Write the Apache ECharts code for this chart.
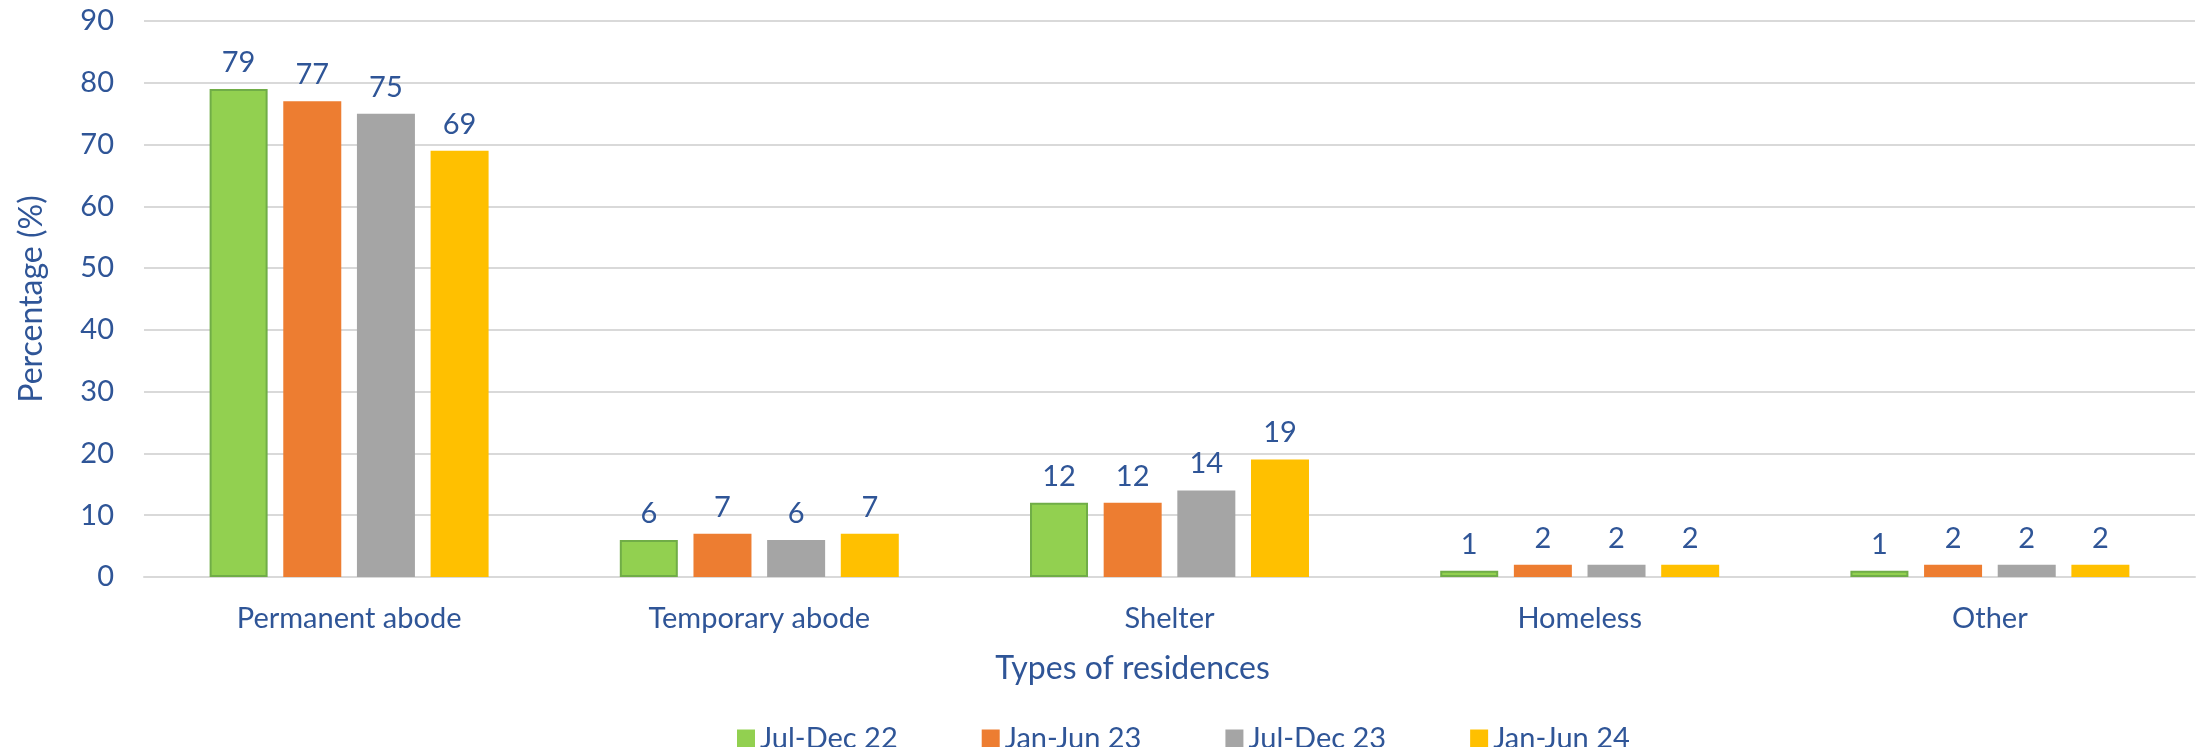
<!DOCTYPE html>
<html>
<head>
<meta charset="utf-8">
<script src="https://cdn.jsdelivr.net/npm/echarts@6/dist/echarts.min.js"></script>
<style>
html,body{margin:0;padding:0;background:#fff;}
#chart{width:2200px;height:747px;}
</style>
</head>
<body>
<div id="chart"></div>
<script>
const categories = ['Permanent abode', 'Temporary abode', 'Shelter', 'Homeless', 'Other'];
const seriesNames = ['Jul-Dec 22', 'Jan-Jun 23', 'Jul-Dec 23', 'Jan-Jun 24'];
const julDec22 = [79, 6, 12, 1, 1];
const janJun23 = [77, 7, 12, 2, 2];
const julDec23 = [75, 6, 14, 2, 2];
const janJun24 = [69, 7, 19, 2, 2];
const yTicks = [0, 10, 20, 30, 40, 50, 60, 70, 80, 90];

const colors = ['#92D050', '#ED7D31', '#A5A5A5', '#FFC000'];
const borders = ['#70AD47', '#ED7D31', '#A5A5A5', '#FFC000'];
const values = [julDec22, janJun23, julDec23, janJun24];
const textColor = '#2F5597';
const font = 'Lato';

const chart = echarts.init(document.getElementById('chart'));
chart.setOption({
  animation: false,
  textStyle: {fontFamily: font},
  grid: {left: 144, right: 5, top: 21, bottom: 170, containLabel: false},
  legend: {
    data: seriesNames,
    top: 719,
    left: 732,
    itemWidth: 18,
    itemHeight: 18,
    itemGap: 84,
    itemStyle: {borderWidth: 0},
    icon: 'rect',
    textStyle: {color: textColor, fontSize: 29, fontFamily: font}
  },
  xAxis: {
    type: 'category',
    data: categories,
    name: 'Types of residences',
    nameLocation: 'middle',
    nameGap: 76,
    nameTextStyle: {color: textColor, fontSize: 32, fontFamily: font, verticalAlign: 'top', padding: [0, 74, 0, 0]},
    axisLine: {lineStyle: {color: '#D9D9D9', width: 2}},
    axisTick: {show: false},
    axisLabel: {color: textColor, fontSize: 29, fontFamily: font, margin: 27}
  },
  yAxis: {
    type: 'value',
    min: yTicks[0],
    max: yTicks[yTicks.length - 1],
    interval: 10,
    name: 'Percentage (%)',
    nameLocation: 'middle',
    nameGap: 96,
    nameTextStyle: {color: textColor, fontSize: 32, fontFamily: font},
    axisLine: {show: false},
    axisTick: {show: false},
    splitLine: {lineStyle: {color: '#D9D9D9', width: 2}},
    axisLabel: {color: textColor, fontSize: 29, fontFamily: font, margin: 30}
  },
  series: seriesNames.map((name, i) => ({
    name: name,
    type: 'bar',
    data: values[i],
    barWidth: 58,
    barGap: '27%',
    itemStyle: {color: colors[i], borderColor: borders[i], borderWidth: i === 0 ? 2 : 0},
    label: {show: true, position: 'top', distance: 12, color: textColor, fontSize: 29, fontFamily: font}
  }))
});
</script>
</body>
</html>
